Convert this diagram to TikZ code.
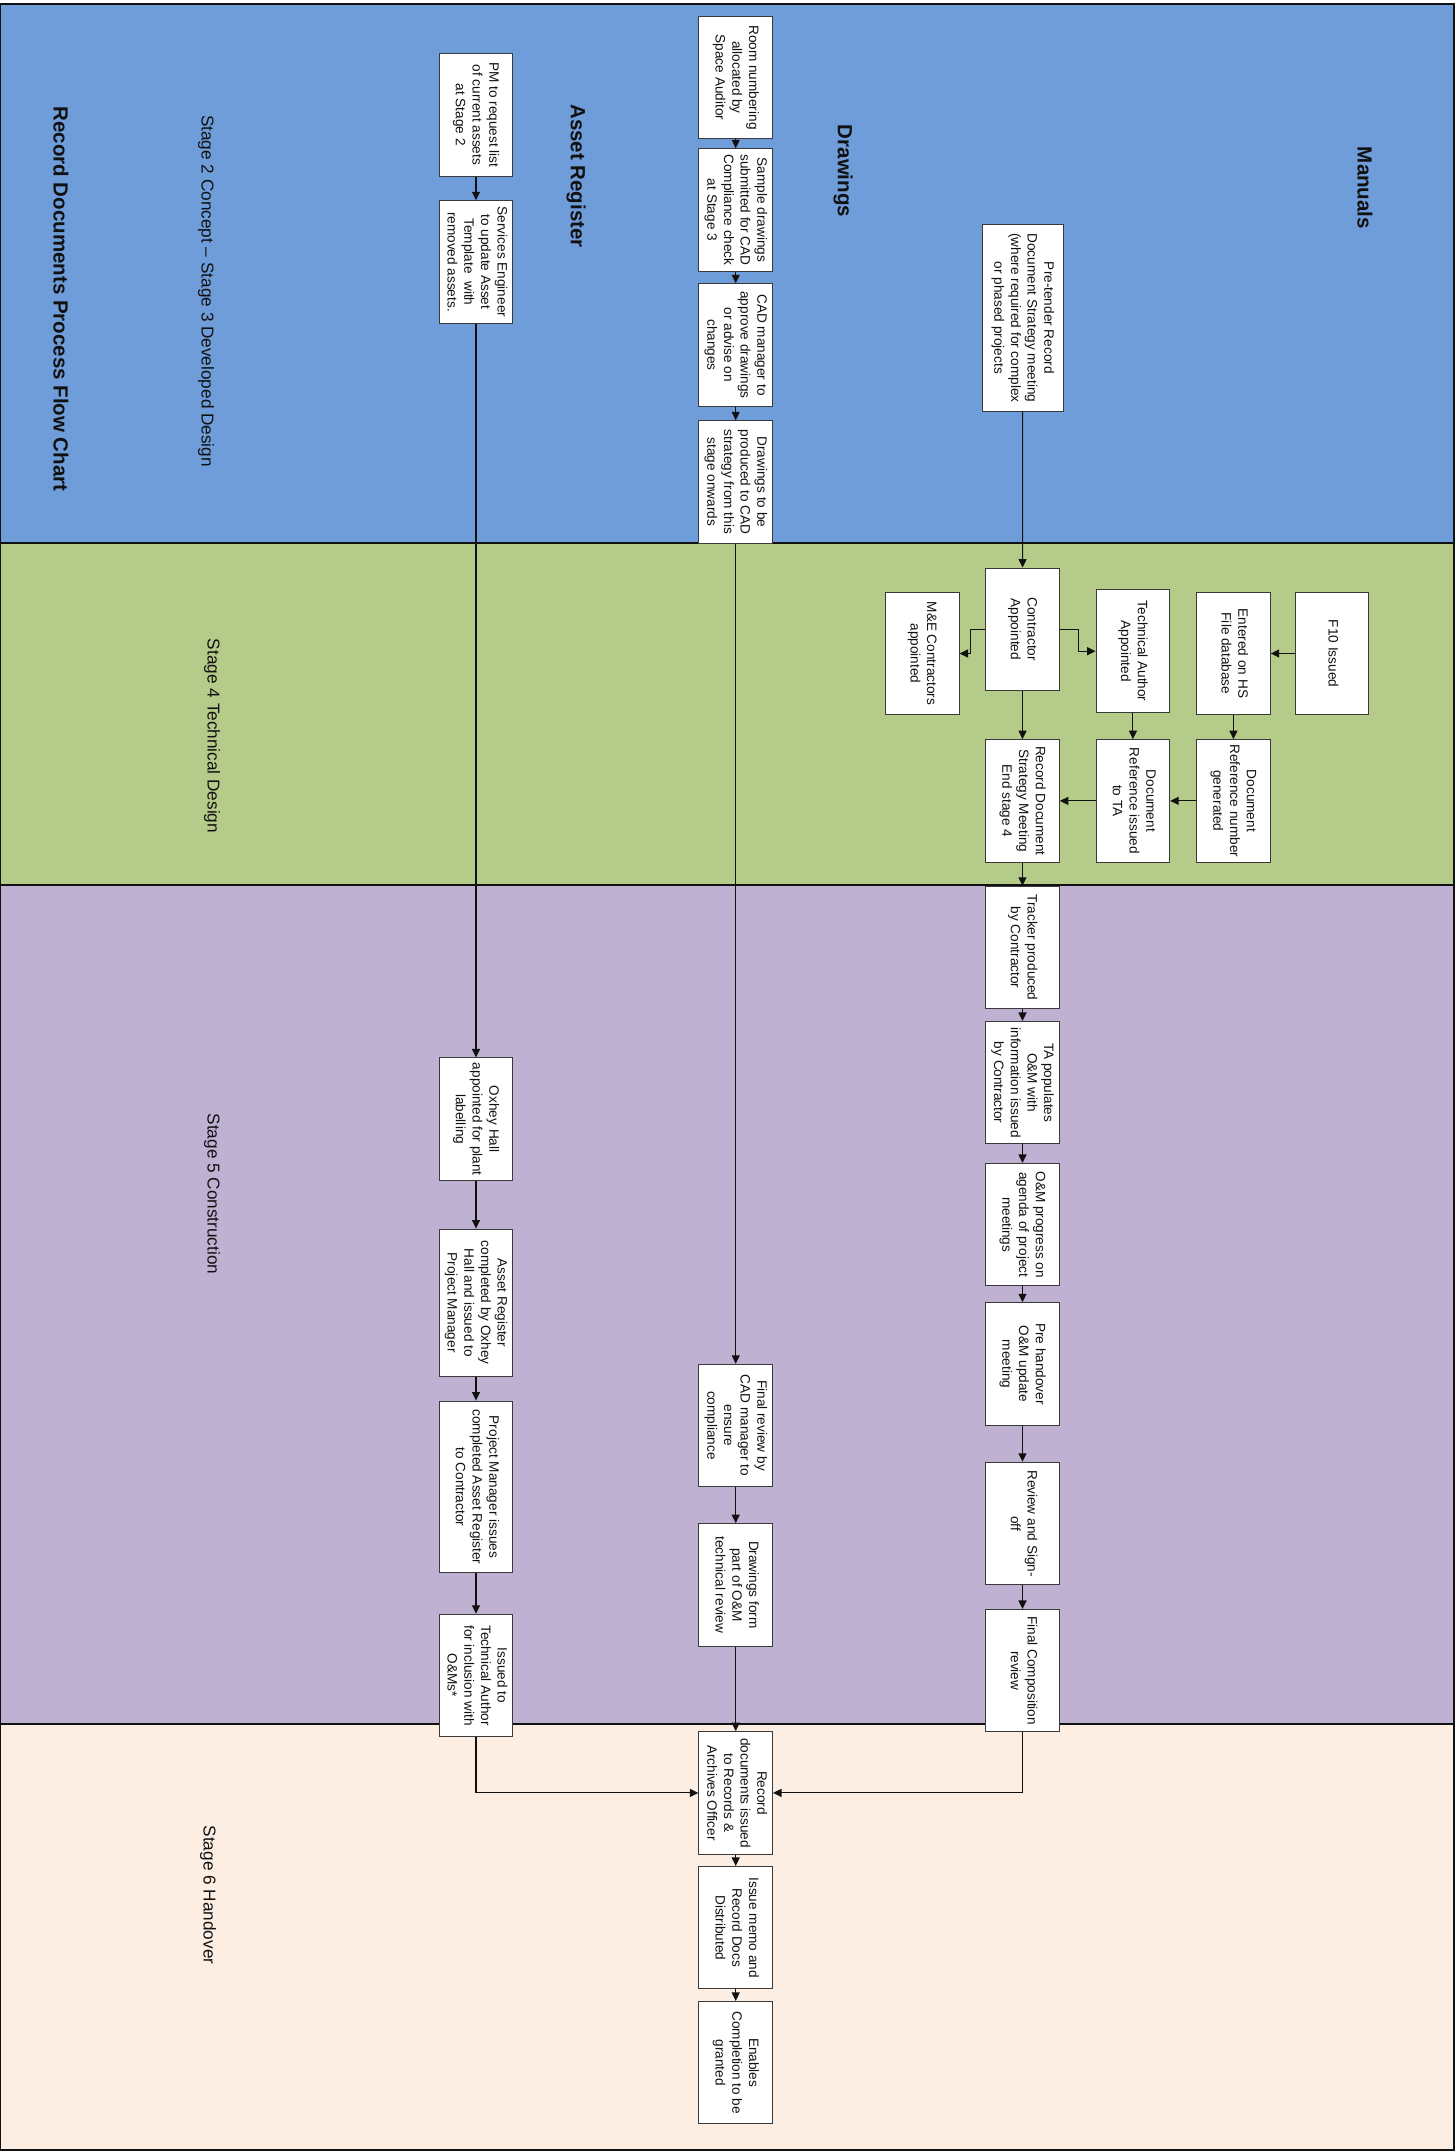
\documentclass[tikz,border=0pt]{standalone}
\usepackage{fontspec}
\setmainfont{Liberation Sans}
\usepackage{graphicx}
\usetikzlibrary{arrows.meta}
\definecolor{ink}{HTML}{111111}
\definecolor{edge}{HTML}{3A3A3A}
\definecolor{bandblue}{HTML}{6F9DD9}
\definecolor{bandgreen}{HTML}{B5CB89}
\definecolor{bandpurple}{HTML}{BFB1D2}
\definecolor{bandpeach}{HTML}{FCEEE3}
\newcommand{\boxtxt}[1]{\rotatebox{-90}{\begin{tabular}{@{}c@{}}#1\end{tabular}}}

\begin{document}
\begin{tikzpicture}[
  x=1pt, y=-1pt,
  box/.style={draw=edge, fill=white, line width=1pt, inner sep=0pt, minimum width=73.6pt, minimum height=122.5pt, text=ink, font=\fontsize{13.6}{16.7}\selectfont},
  lane/.style={text=ink, font=\fontsize{20.5}{24}\selectfont\bfseries},
  stage/.style={text=ink, font=\fontsize{17.2}{20}\selectfont},
  arrow/.style={-{Triangle[length=8.5pt,width=8pt]}, line width=1.1pt, draw=ink},
  band/.style={draw=ink, line width=1.4pt}
]
\useasboundingbox (0,0) rectangle (1456,2152);

% ---------- Stage bands ----------
\filldraw[band, fill=bandblue]   (0,4)    rectangle (1454,543);
\filldraw[band, fill=bandgreen]  (0,543)  rectangle (1454,885);
\filldraw[band, fill=bandpurple] (0,885)  rectangle (1454,1724);
\filldraw[band, fill=bandpeach]  (0,1724) rectangle (1454,2150);

% ---------- Titles ----------
\node[lane] (title) at (61,299) {\rotatebox{-90}{Record Documents Process Flow Chart}};
\node[stage] (stgtwo) at (206,291) {\rotatebox{-90}{Stage 2 Concept -- Stage 3 Developed Design}};
\node[stage] (stgfour) at (212,736) {\rotatebox{-90}{Stage 4 Technical Design}};
\node[stage] (stgfive) at (212,1194) {\rotatebox{-90}{Stage 5 Construction}};
\node[stage] (stgsix) at (208,1895) {\rotatebox{-90}{Stage 6 Handover}};
\node[lane] (lnasset) at (576,176) {\rotatebox{-90}{Asset Register}};
\node[lane] (lndraw) at (843,171) {\rotatebox{-90}{Drawings}};
\node[lane] (lnman) at (1365,188) {\rotatebox{-90}{Manuals}};

% ---------- Asset register ----------
\node[box] (pmreq) at (476,114.8) {\boxtxt{PM to request list\\of current assets\\at Stage 2}};
\node[box] (seneng) at (476,262) {\boxtxt{Services Engineer\\to update Asset\\Template\ \ with\\removed assets.}};
\node[box] (oxhey) at (476,1119.2) {\boxtxt{Oxhey Hall\\appointed for plant\\labelling}};
\node[box, minimum height=147.3pt] (arcomp) at (476,1302.7) {\boxtxt{Asset Register\\completed by Oxhey\\Hall and issued to\\Project Manager}};
\node[box, minimum height=171.7pt] (pmissue) at (476,1486.9) {\boxtxt{Project Manager issues\\completed Asset Register\\to Contractor}};
\node[box] (issuedta) at (476,1675.5) {\boxtxt{Issued to\\Technical Author\\for inclusion with\\O\&Ms*}};

% ---------- Drawings ----------
\node[box] (room) at (735.7,77.5) {\boxtxt{Room numbering\\allocated by\\Space Auditor}};
\node[box] (sample) at (735.7,210) {\boxtxt{Sample drawings\\submitted for CAD\\Compliance check\\at Stage 3}};
\node[box] (cadmgr) at (735.7,345) {\boxtxt{CAD manager to\\approve drawings\\or advise on\\changes}};
\node[box] (drawprod) at (735.7,482) {\boxtxt{Drawings to be\\produced to CAD\\strategy from this\\stage onwards}};
\node[box] (finalrev) at (735.7,1425.5) {\boxtxt{Final review by\\CAD manager to\\ensure\\compliance}};
\node[box] (drawform) at (735.7,1584.9) {\boxtxt{Drawings form\\part of O\&M\\technical review}};
\node[box] (recdocs) at (735.7,1792.9) {\boxtxt{Record\\documents issued\\to Records \&\\Archives Officer}};
\node[box] (memo) at (735.7,1927.7) {\boxtxt{Issue memo and\\Record Docs\\Distributed}};
\node[box] (enables) at (735.7,2062.7) {\boxtxt{Enables\\Completion to be\\granted}};

% ---------- Manuals ----------
\node[box, minimum width=81.3pt, minimum height=186.3pt] (pretender) at (1022.7,317.9) {\boxtxt{Pre-tender Record\\Document Strategy meeting\\(where required for complex\\or phased projects}};
\node[box] (contractor) at (1022.5,629.3) {\boxtxt{Contractor\\Appointed}};
\node[box] (mecon) at (922.2,653.5) {\boxtxt{M\&E Contractors\\appointed}};
\node[box] (taappt) at (1132.9,651.2) {\boxtxt{Technical Author\\Appointed}};
\node[box] (entered) at (1233.4,653.5) {\boxtxt{Entered on HS\\File database}};
\node[box] (ften) at (1332,653.5) {\boxtxt{F10 Issued}};
\node[box] (docgen) at (1233.4,800.9) {\boxtxt{Document\\Reference number\\generated}};
\node[box] (docissued) at (1132.9,800.9) {\boxtxt{Document\\Reference issued\\to TA}};
\node[box] (recstrat) at (1022.5,800.9) {\boxtxt{Record Document\\Strategy Meeting\\End stage 4}};
\node[box] (tracker) at (1022.5,947.5) {\boxtxt{Tracker produced\\by Contractor}};
\node[box] (tapop) at (1022.5,1082.7) {\boxtxt{TA populates\\O\&M with\\information issued\\by Contractor}};
\node[box] (omprog) at (1022.5,1224.7) {\boxtxt{O\&M progress on\\agenda of project\\meetings}};
\node[box] (prehand) at (1022.5,1364) {\boxtxt{Pre handover\\O\&M update\\meeting}};
\node[box] (review) at (1022.5,1523.5) {\boxtxt{Review and Sign-\\off}};
\node[box] (finalcomp) at (1022.5,1670.7) {\boxtxt{Final Composition\\review}};

% ---------- Connectors ----------
% asset register column
\draw[arrow] (pmreq) -- (seneng);
\draw[arrow] (seneng) -- (oxhey);
\draw[arrow] (oxhey) -- (arcomp);
\draw[arrow] (arcomp) -- (pmissue);
\draw[arrow] (pmissue) -- (issuedta);
\draw[arrow] (issuedta) |- (recdocs);
% drawings column
\draw[arrow] (room) -- (sample);
\draw[arrow] (sample) -- (cadmgr);
\draw[arrow] (cadmgr) -- (drawprod);
\draw[arrow] (drawprod) -- (finalrev);
\draw[arrow] (finalrev) -- (drawform);
\draw[arrow] (drawform) -- (recdocs);
\draw[arrow] (recdocs) -- (memo);
\draw[arrow] (memo) -- (enables);
% manuals column
\draw[arrow] (pretender) -- (contractor);
\draw[arrow] (contractor.east) -- ++(18.7,0) |- (taappt.west);
\draw[arrow] (contractor.west) -- ++(-14.7,0) |- (mecon.east);
\draw[arrow] (ften) -- (entered);
\draw[arrow] (entered) -- (docgen);
\draw[arrow] (taappt) -- (docissued);
\draw[arrow] (docgen) -- (docissued);
\draw[arrow] (docissued) -- (recstrat);
\draw[arrow] (contractor) -- (recstrat);
\draw[arrow] (recstrat) -- (tracker);
\draw[arrow] (tracker) -- (tapop);
\draw[arrow] (tapop) -- (omprog);
\draw[arrow] (omprog) -- (prehand);
\draw[arrow] (prehand) -- (review);
\draw[arrow] (review) -- (finalcomp);
\draw[arrow] (finalcomp) |- (recdocs);

\end{tikzpicture}
\end{document}
